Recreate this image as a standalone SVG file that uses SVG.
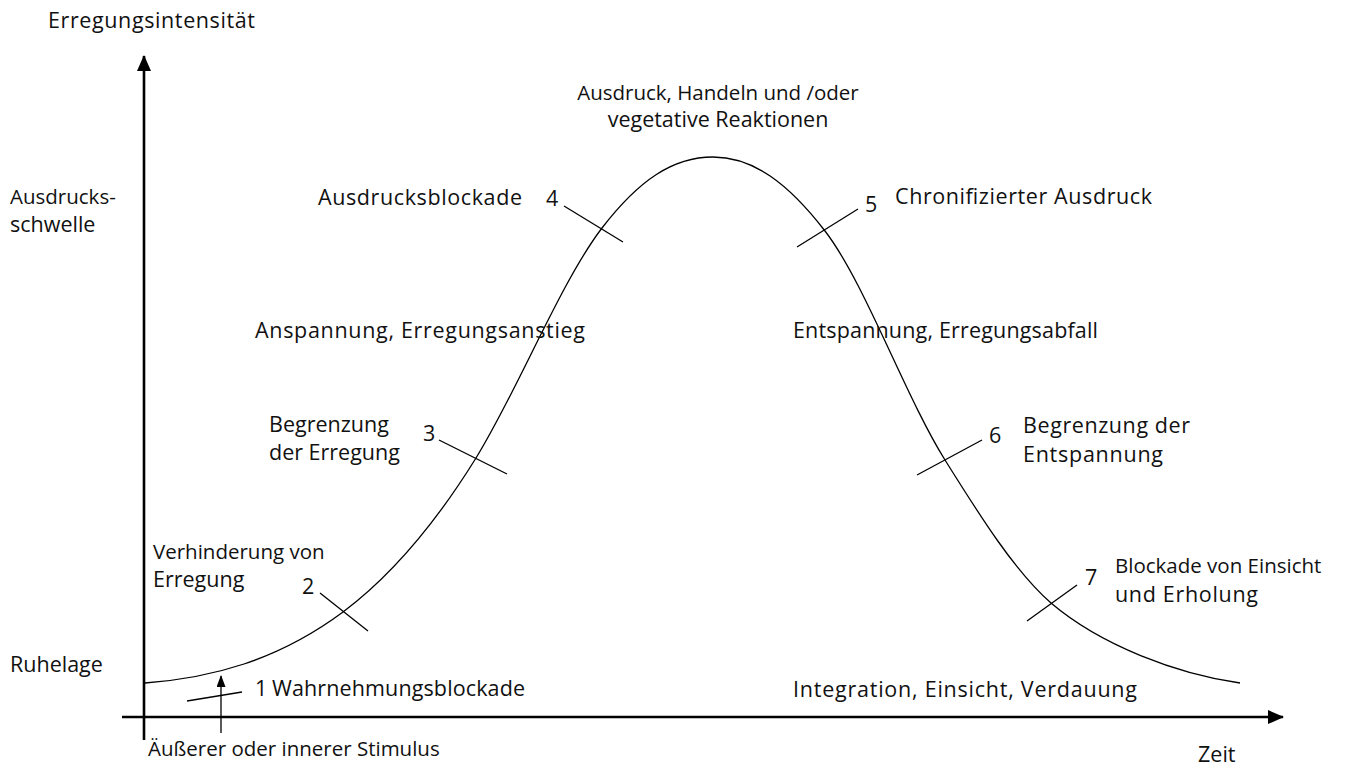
<svg xmlns="http://www.w3.org/2000/svg" width="1360" height="767" viewBox="0 0 1360 767">
<defs>
<style>
text{font-family:"Open Sans","Noto Sans","Liberation Sans",sans-serif;font-size:21.5px;fill:#111;}
.s{font-size:20.5px;}
.axis{stroke:#000;stroke-width:2.6;fill:none;}
.thin{stroke:#000;stroke-width:1.3;fill:none;}
</style>
<marker id="big" markerWidth="16" markerHeight="14" refX="15" refY="7" orient="auto" markerUnits="userSpaceOnUse"><path d="M0,0 L16,7 L0,14 z" fill="#000"/></marker>
<marker id="small" markerWidth="12" markerHeight="9" refX="11" refY="4.5" orient="auto" markerUnits="userSpaceOnUse"><path d="M0,0 L12,4.5 L0,9 z" fill="#000"/></marker>
</defs>
<rect width="1360" height="767" fill="#fff"/>
<g id="connectors">
<line class="axis" x1="144" y1="740" x2="144" y2="56" marker-end="url(#big)"/>
<line class="axis" x1="122" y1="717" x2="1283" y2="717" marker-end="url(#big)"/>
<line class="thin" x1="221" y1="733" x2="221" y2="676" marker-end="url(#small)"/>
<path id="curve" class="thin" d="M145,683 C211,678 277,661 343,612 C387,579 432,529 476,458 C518,390 560,283 602,228 C639,180 673,157 713,157 C753,157 788,183 825,231 C865,283 905,396 945,460 C980,516 1016,573 1051,603 C1101,645.5 1177,674 1240,683"/>
<line class="thin" x1="187" y1="701" x2="242" y2="692"/>
<line class="thin" x1="320" y1="593" x2="368" y2="631"/>
<line class="thin" x1="439" y1="440" x2="507" y2="474"/>
<line class="thin" x1="564" y1="206" x2="623" y2="242"/>
<line class="thin" x1="797" y1="247" x2="858" y2="209"/>
<line class="thin" x1="917" y1="475" x2="982" y2="440"/>
<line class="thin" x1="1027" y1="621" x2="1077" y2="585"/>
</g>
<g id="axis-labels">
<text x="48" y="28" textLength="207">Erregungsintensität</text>
<text class="s" x="10" y="204">Ausdrucks-</text>
<text x="10" y="232">schwelle</text>
<text x="10" y="672">Ruhelage</text>
<text class="s" x="148" y="756">Äußerer oder innerer Stimulus</text>
<text x="1198" y="762">Zeit</text>
</g>
<g id="n1"><text x="255" y="696">1</text><text x="272" y="696" textLength="253">Wahrnehmungsblockade</text></g>
<g id="n2"><text class="s" x="153" y="559">Verhinderung von</text><text x="153" y="587">Erregung</text><text x="302" y="594">2</text></g>
<g id="n3"><text x="269" y="432">Begrenzung</text><text x="269" y="460">der Erregung</text><text x="423" y="441">3</text></g>
<g id="phase-up"><text x="255" y="338" textLength="330">Anspannung, Erregungsanstieg</text></g>
<g id="n4"><text x="318" y="205" textLength="204">Ausdrucksblockade</text><text x="546" y="206">4</text></g>
<g id="peak"><text class="s" x="718" y="100" text-anchor="middle">Ausdruck, Handeln und /oder</text><text x="718" y="127" text-anchor="middle">vegetative Reaktionen</text></g>
<g id="n5"><text x="865" y="212">5</text><text x="895" y="204" textLength="257">Chronifizierter Ausdruck</text></g>
<g id="phase-down"><text x="793" y="338" textLength="305">Entspannung, Erregungsabfall</text></g>
<g id="n6"><text x="989" y="443">6</text><text x="1023" y="433" textLength="167">Begrenzung der</text><text x="1023" y="462" textLength="140">Entspannung</text></g>
<g id="n7"><text x="1085" y="585">7</text><text class="s" x="1115" y="573">Blockade von Einsicht</text><text x="1115" y="602" textLength="143">und Erholung</text></g>
<g id="rest"><text x="793" y="697" textLength="344">Integration, Einsicht, Verdauung</text></g>
</svg>
